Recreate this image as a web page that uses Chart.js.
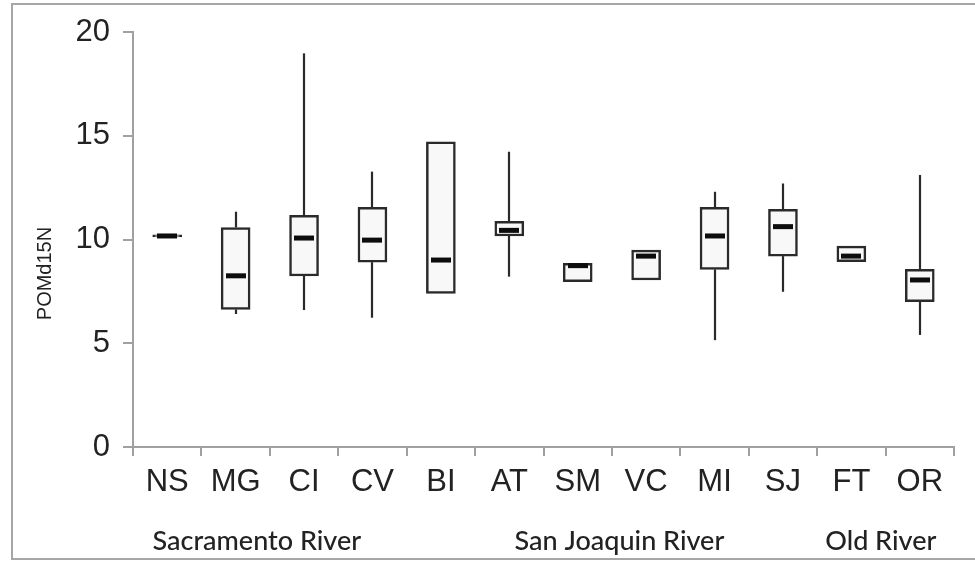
<!DOCTYPE html>
<html>
<head>
<meta charset="utf-8">
<script src="https://cdn.jsdelivr.net/npm/chart.js@4/dist/chart.umd.min.js"></script>
<style>
  html, body { margin: 0; padding: 0; background: #fff; }
  #wrap { position: relative; width: 975px; height: 566px; }
  #frame { position: absolute; left: 11px; top: 3px; width: 980px; height: 557px;
           border: 2px solid #a6a6a6; border-right: none; box-sizing: border-box; }
  canvas { position: absolute; left: 0; top: 0; }
</style>
</head>
<body>
<div id="wrap">
  <div id="frame"></div>
  <canvas id="chart" width="975" height="566"></canvas>
</div>
<script>
// Sampling sites along the Delta rivers
const sites = ['NS', 'MG', 'CI', 'CV', 'BI', 'AT', 'SM', 'VC', 'MI', 'SJ', 'FT', 'OR'];

// POM d15N summary per site (null = no whisker)
const whiskerLow  = [null, 6.41, 6.60, 6.23, null, 8.21, null, null, 5.15, 7.48, null, 5.40];
const quartile1   = [10.12, 6.63, 8.24, 8.91, 7.40, 10.17, 7.97, 8.05, 8.56, 9.20, 8.93, 7.00];
const medians     = [10.17, 8.25, 10.07, 9.97, 9.01, 10.44, 8.74, 9.20, 10.17, 10.62, 9.20, 8.05];
const quartile3   = [10.22, 10.58, 11.16, 11.55, 14.71, 10.87, 8.85, 9.49, 11.55, 11.45, 9.68, 8.56];
const whiskerHigh = [null, 11.34, 18.97, 13.27, null, 14.23, null, null, 12.30, 12.70, null, 13.11];

const yTicks = [0, 5, 10, 15, 20];

// River groups shown under the site labels, anchored on the site index axis
const riverNames = ['Sacramento River', 'San Joaquin River', 'Old River'];
const riverAnchor = [1.31, 6.61, 10.43];

const boxes = sites.map((_, i) => [quartile1[i], quartile3[i]]);

const boxPlotMarks = {
  id: 'boxPlotMarks',
  beforeDatasetsDraw(chart) {
    const { ctx, scales: { x, y } } = chart;
    ctx.save();
    ctx.strokeStyle = '#2a2a2a';
    ctx.lineWidth = 2.2;
    sites.forEach((_, i) => {
      const cx = Math.round(x.getPixelForValue(i));
      if (whiskerLow[i] != null) {
        ctx.beginPath();
        ctx.moveTo(cx, y.getPixelForValue(whiskerLow[i]));
        ctx.lineTo(cx, y.getPixelForValue(quartile1[i]));
        ctx.stroke();
      }
      if (whiskerHigh[i] != null) {
        ctx.beginPath();
        ctx.moveTo(cx, y.getPixelForValue(quartile3[i]));
        ctx.lineTo(cx, y.getPixelForValue(whiskerHigh[i]));
        ctx.stroke();
      }
    });
    ctx.restore();
  },
  afterDatasetsDraw(chart) {
    const { ctx, scales: { x, y } } = chart;
    ctx.save();
    ctx.strokeStyle = '#0d0d0d';
    ctx.lineWidth = 5;
    sites.forEach((_, i) => {
      const cx = Math.round(x.getPixelForValue(i));
      const my = y.getPixelForValue(medians[i]);
      ctx.beginPath();
      ctx.moveTo(cx - 10, my);
      ctx.lineTo(cx + 10, my);
      ctx.stroke();
    });
    ctx.restore();
  },
  afterDraw(chart) {
    const { ctx, scales: { x, y } } = chart;
    ctx.save();
    // river group captions
    ctx.fillStyle = '#222';
    ctx.font = '500 27px Lato, "Open Sans", sans-serif';
    ctx.textAlign = 'center';
    ctx.textBaseline = 'alphabetic';
    riverNames.forEach((name, k) => {
      ctx.fillText(name, x.getPixelForValue(riverAnchor[k]), 550);
    });
    // y axis title
    ctx.translate(45, (y.top + y.bottom) / 2 + 34);
    ctx.rotate(-Math.PI / 2);
    ctx.font = '20px "Liberation Sans", Arial, sans-serif';
    ctx.textBaseline = 'middle';
    ctx.fillText('POMd15N', 0, 0);
    ctx.restore();
  }
};

new Chart(document.getElementById('chart'), {
  type: 'bar',
  data: {
    labels: sites,
    datasets: [{
      data: boxes,
      backgroundColor: '#f8f8f8',
      borderColor: '#2a2a2a',
      borderWidth: 2.5,
      borderSkipped: false,
      barThickness: 29
    }]
  },
  options: {
    responsive: false,
    animation: false,
    devicePixelRatio: 1,
    layout: { padding: { left: 0, top: 32, right: 21, bottom: 0 } },
    plugins: { legend: { display: false }, tooltip: { enabled: false } },
    scales: {
      x: {
        offset: true,
        grid: { display: true, offset: true, drawOnChartArea: false, tickLength: 9,
                color: '#a0a0a0', lineWidth: 2 },
        border: { display: true, color: '#a0a0a0', width: 2 },
        ticks: { color: '#222', padding: 8,
                 font: { family: '"Liberation Sans", Arial, sans-serif', size: 31 } },
        afterFit(scale) { scale.height = 119; }
      },
      y: {
        min: 0, max: 20,
        afterBuildTicks(scale) { scale.ticks = yTicks.map(v => ({ value: v })); },
        grid: { display: true, drawOnChartArea: false, tickLength: 10,
                color: '#a0a0a0', lineWidth: 2 },
        border: { display: true, color: '#a0a0a0', width: 2 },
        ticks: { color: '#222', padding: 13,
                 font: { family: '"Liberation Sans", Arial, sans-serif', size: 31 } },
        afterFit(scale) { scale.width = 133; }
      }
    }
  },
  plugins: [boxPlotMarks]
});
</script>
</body>
</html>
